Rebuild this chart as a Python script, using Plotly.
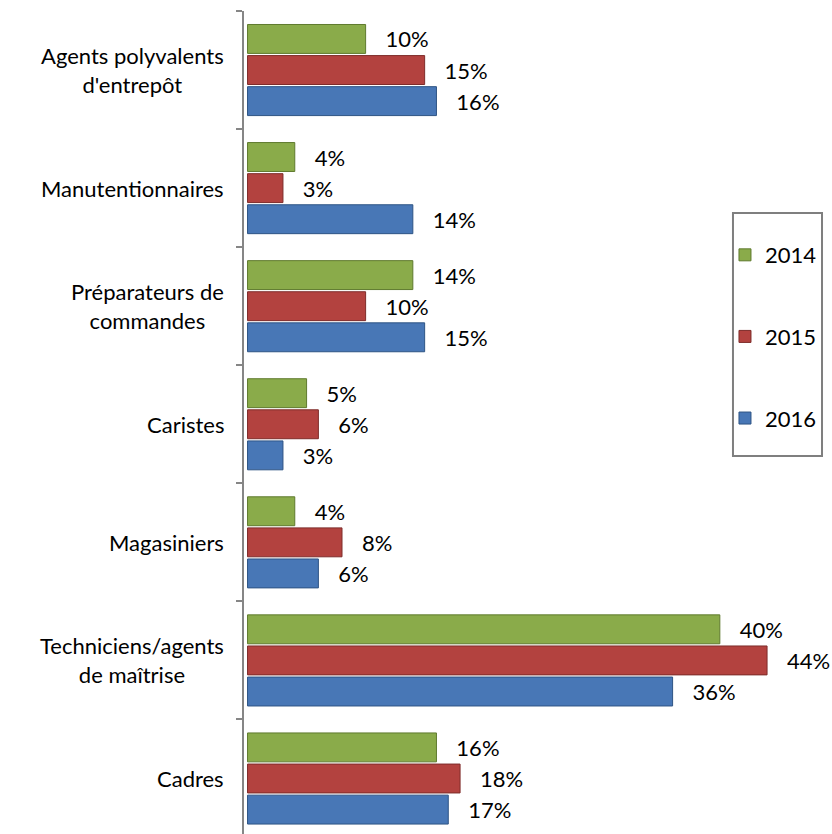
import plotly.graph_objects as go

categories = [
    "Agents polyvalents<br>d'entrepôt",
    "Manutentionnaires",
    "Préparateurs de<br>commandes",
    "Caristes",
    "Magasiniers",
    "Techniciens/agents<br>de maîtrise",
    "Cadres",
]
years = ["2014", "2015", "2016"]
values_2014 = [10, 4, 14, 5, 4, 40, 16]
values_2015 = [15, 3, 10, 6, 8, 44, 18]
values_2016 = [16, 14, 15, 3, 6, 36, 17]

series = [values_2014, values_2015, values_2016]
fills = ["#8AAB4A", "#B3423F", "#4877B6"]
edges = ["#5F7A2E", "#7E2C2A", "#2E5484"]

FONT = "Lato"
NBSP = "\u00a0"

fig = go.Figure()
for year, vals, fill, edge in zip(years, series, fills, edges):
    fig.add_trace(go.Bar(
        name=year,
        legendgroup=year,
        orientation="h",
        y=categories,
        x=vals,
        marker=dict(color=fill, line=dict(color=edge, width=1)),
        text=[f"{NBSP*3}{v}%" for v in vals],
        textposition="outside",
        constraintext="none",
        textfont=dict(family=FONT, size=22, color="#000000"),
        cliponaxis=False,
        hoverinfo="skip",
    ))

# category labels: lines centred, block right-aligned next to the axis
for cat in categories:
    fig.add_annotation(
        x=0, xref="paper", xanchor="right", xshift=-18,
        y=cat, yref="y", yanchor="middle",
        text=cat, showarrow=False, align="center",
        font=dict(family=FONT, size=22, color="#000000"),
    )

# legend frame
fig.add_shape(
    type="rect", xref="paper", yref="paper",
    x0=0.8316, x1=0.9830, y0=0.4593, y1=0.7546,
    line=dict(color="#7F7F7F", width=2), fillcolor="rgba(0,0,0,0)",
)

fig.update_layout(
    width=832, height=834,
    margin=dict(l=244, r=0, t=11, b=0),
    paper_bgcolor="white", plot_bgcolor="white",
    barmode="group", bargap=0.21, bargroupgap=0.07,
    showlegend=True,
    legend=dict(
        x=0.818, y=0.729, xanchor="left", yanchor="top",
        borderwidth=0, bgcolor="rgba(0,0,0,0)",
        traceorder="grouped", tracegroupgap=50,
        font=dict(family=FONT, size=22, color="#000000"),
        itemwidth=30,
    ),
    xaxis=dict(range=[-0.3, 49.5], visible=False, showgrid=False, zeroline=False),
    yaxis=dict(
        type="category",
        range=[6.47, -0.5],
        showticklabels=False,
        showline=True, linecolor="#868686", linewidth=1.5,
        ticks="outside", tickson="boundaries", ticklen=6,
        tickcolor="#868686", tickwidth=1.5,
        showgrid=False, zeroline=False,
    ),
)

fig.write_html("out.html")
